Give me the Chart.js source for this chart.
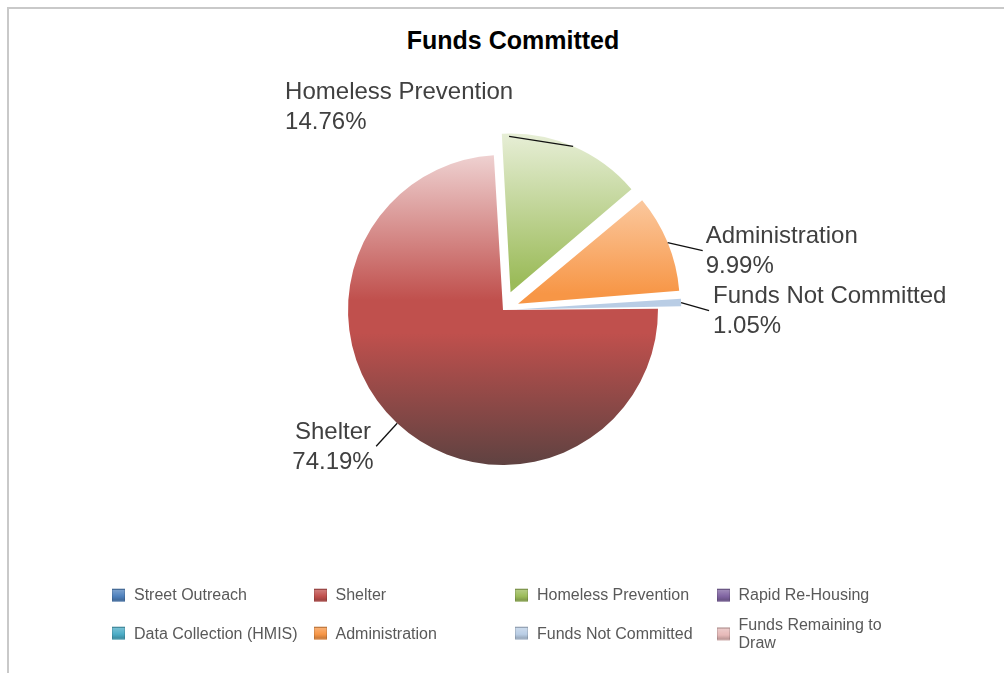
<!DOCTYPE html>
<html>
<head>
<meta charset="utf-8">
<title>Funds Committed</title>
<script src="https://cdn.jsdelivr.net/npm/chart.js@4.4.1/dist/chart.umd.min.js"></script>
<style>
  html, body { margin: 0; padding: 0; background: #fff; }
  body { width: 1004px; height: 673px; position: relative; overflow: hidden; font-family: "Liberation Sans", Arial, sans-serif; }
  #moldura { position: absolute; left: 7px; top: 7px; width: 1100px; height: 800px; border-top: 2px solid #c9c9c9; border-left: 2px solid #c9c9c9; }
  #titulo { position: absolute; top: 26px; left: 0; width: 1026px; text-align: center; font-weight: bold; font-size: 25px; line-height: 29px; color: #000; }
  #grafico { position: absolute; left: 0; top: 0; }
  .item-legenda { position: absolute; display: flex; align-items: center; transform: translateY(-50%); font-size: 16px; line-height: 18.5px; color: #595959; }
  .marcador { width: 11px; height: 11px; margin-right: 9px; flex: none; border: 1px solid rgba(0,0,0,0.12); }
  .texto-legenda { max-width: 172px; }
</style>
</head>
<body>
<div id="moldura"></div>
<div id="titulo">Funds Committed</div>
<canvas id="grafico" width="1004" height="673"></canvas>
<div id="legenda"></div>

<script>
// Dados do gráfico
const rotulos = ['Street Outreach', 'Shelter', 'Homeless Prevention', 'Rapid Re-Housing',
    'Data Collection (HMIS)', 'Administration', 'Funds Not Committed', 'Funds Remaining to Draw'];
const percentuais = [0, 74.19, 14.76, 0, 0, 9.99, 1.05, 0];
const cores = ['#4f81bd', '#c0504d', '#9bbb59', '#8064a2', '#4bacc6', '#f79646', '#b9cde5', '#e6b9b8'];

// Fatias destacadas (offset do Chart.js, não é px direto)
const afastamento = [0, 0, 77, 0, 0, 65, 48, 0];

const RAIO = 155;

// Onde fica cada rótulo: guia = linha a partir da borda da fatia, texto = deslocamento a partir do fim da guia
const posicaoRotulos = [
    { indice: 1, guia: [-21, 23], texto: [-2.5, -7], alinhar: 'direita' },
    { indice: 2, guia: [-64, -10], texto: [-224, -37], alinhar: 'esquerda' },
    { indice: 5, guia: [35, 8], texto: [3, -7.5], alinhar: 'esquerda' },
    { indice: 6, guia: [28, 8], texto: [4, -8], alinhar: 'esquerda' }
];

function hexParaRgb(hex) {
    const n = parseInt(hex.slice(1), 16);
    return [(n >> 16) & 255, (n >> 8) & 255, n & 255];
}

function misturar(cor, outra, t) {
    const a = hexParaRgb(cor), b = hexParaRgb(outra);
    const c = a.map((v, i) => Math.round(v * (1 - t) + b[i] * t));
    return `rgb(${c[0]}, ${c[1]}, ${c[2]})`;
}

// Gradiente vertical (claro em cima, escuro embaixo) igual para a pizza toda
function gradienteFatia(context) {
    const chart = context.chart;
    const area = chart.chartArea;
    const base = cores[context.dataIndex];
    if (!area) return base;
    const cy = (area.top + area.bottom) / 2;
    const g = chart.ctx.createLinearGradient(0, cy - RAIO - 20, 0, cy + RAIO);
    g.addColorStop(0, misturar(base, '#ffffff', 0.84));
    g.addColorStop(0.5, base);
    g.addColorStop(0.6, base);
    g.addColorStop(1, misturar(base, '#3d3d3d', 0.74));
    return g;
}

// mesmo cálculo que o ArcElement usa para deslocar a fatia
function deslocamento(offset, circunferencia) {
    const fix = 1 - Math.sin(Math.min(Math.PI, circunferencia || 0));
    return (offset || 0) / 4 * (1 + fix);
}

const rotulosFatias = {
    id: 'rotulosFatias',
    afterDatasetsDraw(chart) {
        const ctx = chart.ctx;
        const meta = chart.getDatasetMeta(0);
        ctx.save();
        ctx.font = '24px "Liberation Sans", Arial, sans-serif';
        ctx.fillStyle = '#404040';
        ctx.strokeStyle = '#111';
        ctx.lineWidth = 1.3;
        ctx.textBaseline = 'alphabetic';

        posicaoRotulos.forEach(p => {
            const arco = meta.data[p.indice];
            const { x, y, startAngle, endAngle, outerRadius } =
                arco.getProps(['x', 'y', 'startAngle', 'endAngle', 'outerRadius'], true);
            const meio = (startAngle + endAngle) / 2;
            const d = deslocamento(arco.options.offset, endAngle - startAngle);
            const bx = x + Math.cos(meio) * (outerRadius + d);
            const by = y + Math.sin(meio) * (outerRadius + d);
            const fx = bx + p.guia[0];
            const fy = by + p.guia[1];

            ctx.beginPath();
            ctx.moveTo(bx, by);
            ctx.lineTo(fx, fy);
            ctx.stroke();

            const linhas = [rotulos[p.indice], percentuais[p.indice].toFixed(2) + '%'];
            const tx = fx + p.texto[0];
            const ty = fy + p.texto[1];
            if (p.alinhar === 'esquerda') {
                ctx.textAlign = 'left';
                linhas.forEach((l, i) => ctx.fillText(l, tx, ty + i * 30));
            } else {
                // bloco termina em tx, linhas centralizadas
                const largura = Math.max(...linhas.map(l => ctx.measureText(l).width));
                ctx.textAlign = 'center';
                linhas.forEach((l, i) => ctx.fillText(l, tx - largura / 2, ty + i * 30));
            }
        });
        ctx.restore();
    }
};

new Chart(document.getElementById('grafico'), {
    type: 'pie',
    data: {
        labels: rotulos,
        datasets: [{
            data: percentuais,
            backgroundColor: gradienteFatia,
            borderWidth: 0,
            offset: afastamento
        }]
    },
    options: {
        responsive: false,
        animation: false,
        rotation: 89.5,
        radius: RAIO,
        layout: { padding: { left: 200, right: 198, top: 60, bottom: 113 } },
        plugins: {
            legend: { display: false },
            title: { display: false },
            tooltip: { enabled: false }
        }
    },
    plugins: [rotulosFatias]
});

// Legenda em 4 colunas
const legenda = document.getElementById('legenda');
rotulos.forEach((nome, i) => {
    const col = i % 4;
    const linha = Math.floor(i / 4);
    const item = document.createElement('div');
    item.className = 'item-legenda';
    item.style.left = (112 + col * 201.5) + 'px';
    item.style.top = (595 + linha * 38.5) + 'px';
    const cor = cores[i];
    item.innerHTML = `<span class="marcador" style="background: linear-gradient(to bottom, ${misturar(cor, '#ffffff', 0.25)}, ${cor} 60%, ${misturar(cor, '#000000', 0.2)})"></span>` +
        `<span class="texto-legenda">${nome}</span>`;
    legenda.appendChild(item);
});
</script>
</body>
</html>
